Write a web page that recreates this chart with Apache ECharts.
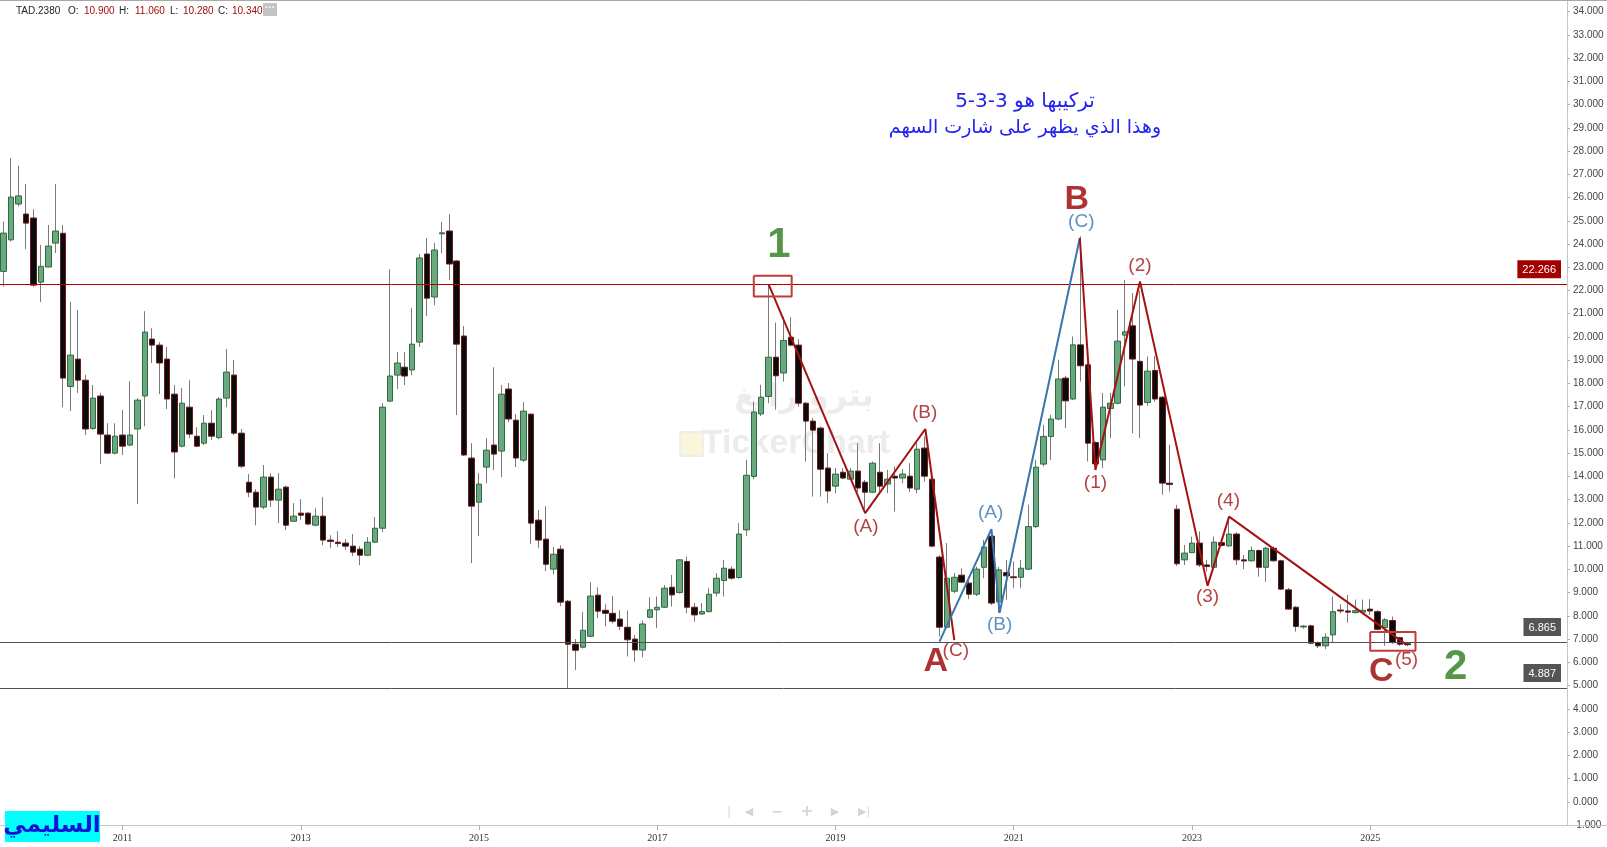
<!DOCTYPE html>
<html><head><meta charset="utf-8">
<script src="https://cdn.jsdelivr.net/npm/echarts@6/dist/echarts.min.js"></script>
<style>html,body{margin:0;padding:0;background:#fff;overflow:hidden}#c{width:1607px;height:847px}</style>
</head><body><div id="c"></div>
<script>
// ---- Monthly categories (Sep 2009 onward) ----
const START_YEAR = 2009, START_MONTH = 9, N_CATS = 211;
const categories = [];
for (let k = 0; k < N_CATS; k++) {
  const m = START_MONTH - 1 + k;
  const y = START_YEAR + Math.floor(m / 12);
  const mm = (m % 12) + 1;
  categories.push(y + '-' + (mm < 10 ? '0' : '') + mm);
}
const yearTickLabels = ['2011','2013','2015','2017','2019','2021','2023','2025'];

// ---- OHLC values (monthly) ----
const OPEN = [
22.82,24.18,25.72,25.29,25.12,22.36,23.01,24.04,24.46,17.87,
19.05,18.14,16.06,17.46,15.78,15.00,15.78,15.35,16.04,17.46,
19.91,19.65,19.05,17.54,15.30,16.98,15.73,15.43,16.29,15.67,
17.37,18.36,15.86,13.75,13.32,12.68,13.97,12.98,13.54,12.07,
12.42,12.42,11.90,12.29,11.26,11.17,11.13,11.00,10.87,10.61,
11.17,11.77,17.24,18.36,18.70,18.58,19.78,23.57,21.72,24.44,
24.56,23.27,20.04,14.79,12.89,14.40,15.35,15.09,17.76,16.42,
14.70,16.68,12.12,11.30,10.01,10.87,8.63,6.78,6.65,7.12,
8.89,8.24,8.11,7.86,7.51,7.00,6.53,7.94,8.26,8.37,
9.23,9.00,10.34,8.37,8.08,8.18,8.98,9.52,10.01,9.65,
11.70,14.00,16.69,17.44,19.13,18.45,19.99,19.65,17.15,16.38,
16.08,14.36,13.58,14.18,13.88,14.23,13.75,13.32,14.18,13.67,
14.01,13.93,14.01,13.45,15.22,13.88,10.53,7.51,9.06,9.75,
9.41,8.93,10.09,11.43,8.60,9.86,9.68,9.66,10.01,11.84,
14.53,15.72,16.47,18.23,17.33,19.66,18.80,15.46,14.71,16.92,
17.15,20.08,20.48,18.95,17.18,18.56,17.41,13.71,12.59,10.41,
10.72,11.13,10.19,10.09,11.15,11.01,11.52,10.41,10.37,10.81,
10.09,10.91,10.37,9.12,8.37,7.52,7.57,6.85,6.71,7.18,
8.25,8.21,8.14,8.16,8.29,8.18,7.50,7.80,7.06,6.80];
const CLOSE = [
24.47,26.02,26.07,24.90,22.23,23.04,23.91,24.56,18.23,19.22,
18.14,16.04,17.37,15.82,15.00,15.73,15.30,15.78,17.28,20.21,
19.65,18.88,17.33,15.05,17.15,15.82,15.30,16.29,15.73,17.33,
18.49,15.86,14.44,13.32,12.68,13.97,12.98,13.45,11.90,12.29,
12.33,11.95,12.29,11.26,11.20,11.11,11.00,10.74,10.61,11.17,
11.77,16.98,18.32,18.88,18.32,19.69,23.40,21.67,23.74,24.48,
23.14,19.69,14.92,12.72,13.67,15.13,14.96,17.54,16.47,14.79,
16.81,11.99,11.26,10.22,10.65,8.59,6.78,6.52,7.38,8.85,
8.20,8.11,7.77,7.55,6.97,6.53,7.65,8.26,8.37,9.19,
8.90,10.41,8.37,8.04,8.18,8.93,9.62,10.05,9.62,11.52,
14.05,16.77,17.41,19.13,18.33,19.85,19.65,17.15,16.38,15.99,
14.31,13.37,14.10,13.93,14.23,13.50,13.32,14.57,13.58,13.88,
13.93,14.10,13.50,15.17,14.01,11.00,7.51,9.62,9.66,9.45,
8.93,10.01,10.96,8.55,9.98,9.72,9.64,10.05,11.84,14.40,
15.72,16.47,18.19,17.25,19.66,18.76,15.43,14.54,16.98,17.15,
19.82,20.22,19.05,17.07,18.53,17.33,13.71,13.65,10.24,10.70,
11.13,10.19,10.12,11.17,11.03,11.52,10.41,10.36,10.81,10.09,
10.91,10.37,9.15,8.29,7.54,7.56,6.82,6.71,7.08,8.18,
8.21,8.16,8.22,8.24,8.21,7.42,7.83,6.85,6.78,6.76];
const LOW = [
22.17,24.11,25.62,23.78,22.17,21.50,23.00,23.61,16.98,16.81,
17.59,15.78,16.00,14.53,14.95,14.95,14.92,15.30,12.81,16.16,
18.88,17.54,16.90,13.91,15.25,15.65,15.26,15.35,15.56,15.60,
16.98,15.78,14.36,13.11,11.90,12.59,12.68,11.99,11.69,12.05,
12.12,11.90,11.86,11.04,10.91,10.96,10.83,10.57,10.18,10.57,
11.13,11.60,17.20,17.76,17.93,18.36,19.57,20.90,21.37,23.61,
22.45,16.64,14.88,10.27,11.43,13.71,14.27,13.97,16.34,14.40,
14.62,11.08,10.91,9.92,9.79,8.42,4.887,5.66,6.60,7.08,
7.90,7.55,7.68,7.38,6.25,6.03,6.22,7.90,7.47,8.33,
8.40,8.96,8.11,7.75,8.04,8.15,8.83,8.83,9.55,9.60,
11.44,13.88,16.60,17.15,16.87,18.08,19.60,17.00,14.64,13.13,
13.13,12.85,13.28,13.88,13.86,13.32,12.60,13.28,13.28,13.28,
12.49,13.71,13.32,13.28,13.78,10.95,7.11,7.47,8.98,9.41,
8.72,8.85,9.62,8.47,8.13,8.69,9.19,9.19,9.97,11.77,
14.43,14.71,16.42,16.08,17.28,18.08,14.64,14.28,14.36,15.65,
17.10,17.87,15.86,15.65,17.04,17.22,13.21,13.35,10.15,10.19,
10.70,10.10,9.90,10.05,10.98,10.98,10.19,10.01,10.33,9.69,
9.47,10.33,9.11,8.25,7.32,7.45,6.78,6.61,6.57,6.85,
8.10,7.71,8.10,8.10,8.04,7.38,6.71,6.80,6.71,6.70];
const HIGH = [
24.97,27.70,27.37,26.58,25.50,23.96,24.82,26.58,24.82,21.50,
21.16,18.37,17.93,17.59,16.29,16.29,16.85,18.10,17.37,21.11,
20.38,19.78,19.57,17.93,17.80,18.14,16.12,16.64,16.85,17.41,
19.48,19.01,16.04,14.10,13.45,14.49,14.14,14.14,13.60,12.85,
13.02,12.46,12.63,13.11,11.47,11.64,11.30,11.52,11.00,11.39,
12.25,17.15,22.92,19.35,19.35,21.24,23.57,24.26,24.04,24.95,
25.29,23.30,20.47,15.43,14.14,15.65,18.70,17.93,18.02,16.68,
17.20,16.70,12.55,12.72,10.96,11.04,8.68,7.00,8.16,9.45,
9.23,8.50,8.85,8.24,8.23,7.18,7.80,8.80,8.83,9.33,
9.76,10.44,10.55,8.55,8.55,9.19,9.84,10.41,10.12,11.99,
14.71,17.22,17.94,22.266,20.62,20.85,20.85,19.91,17.20,16.51,
16.15,15.00,14.36,14.36,14.36,15.43,13.85,14.64,15.43,14.28,
14.43,14.31,14.57,15.43,15.72,13.92,10.61,11.13,9.84,10.05,
9.69,10.12,11.27,11.70,10.10,10.41,10.34,10.41,12.78,14.71,
16.22,16.65,19.02,18.33,20.02,24.33,18.88,15.50,17.59,17.59,
21.17,22.46,21.89,22.00,19.16,19.19,17.45,15.36,12.78,11.05,
11.41,11.63,10.41,11.41,11.30,12.20,11.59,10.62,10.98,10.86,
10.98,10.98,10.41,9.20,8.42,7.60,7.62,6.90,7.25,8.83,
8.50,8.90,8.70,8.70,8.72,8.25,7.90,7.97,7.10,6.85];

// ---- Horizontal price levels ----
const levelResistance = 22.266;
const levelSupportA = 6.865;
const levelSupportB = 4.887;
const lastClose = 6.760;

// ---- Elliott wave paths [month index, price] ----
const waveRed1 = [[103,22.266],[116,12.42],[124.1,16.04],[128,6.96]];
const waveBlue = [[126,6.89],[133,11.73],[134.1,8.13],[144.9,24.26]];
const waveRed2 = [[144.9,24.26],[147,14.28],[153,22.39],[162.1,9.29],[165,12.27],[188.9,6.75]];
const box1 = [101.0,106.1,21.74,22.63];
const box2 = [184.0,190.1,6.50,7.30];

// ---- Wave labels [text, month index, price] ----
const bigGreenLabels = [['1',104.4,23.92],['2',195.5,5.80]];
const bigRedLabels = [['B',144.5,25.90],['A',125.5,6.03],['C',185.5,5.60]];
const redSubLabels = [['(A)',116.1,11.84],['(B)',124.0,16.72],['(C)',128.2,6.50],['(1)',147.0,13.71],['(2)',153.0,23.06],['(3)',162.1,8.80],['(4)',164.9,12.96],['(5)',188.9,6.10]];
const blueSubLabels = [['(C)',145.1,24.97],['(A)',132.9,12.45],['(B)',134.1,7.61]];

const wickData = OPEN.map((o,i)=>[o, CLOSE[i], LOW[i], HIGH[i]]);
const bodyData = OPEN.map((o,i)=>[o, CLOSE[i], Math.min(o,CLOSE[i]), Math.max(o,CLOSE[i])]);

function showYear(idx, val){ return val.slice(5) === '01' && yearTickLabels.indexOf(val.slice(0,4)) >= 0; }
function boxPts(b){ return [[b[0],b[3]],[b[1],b[3]],[b[1],b[2]],[b[0],b[2]],[b[0],b[3]]]; }
function labelSeries(list, color, size, weight){
  return {type:'scatter', xAxisIndex:1, yAxisIndex:0, symbol:'circle', symbolSize:1, silent:true, z:10,
    itemStyle:{color:'rgba(0,0,0,0)'},
    data: list.map(l=>({value:[l[1],l[2]], name:l[0]})),
    label:{show:true, position:'inside', formatter: p=>p.name, color:color, fontSize:size, fontWeight:weight, fontFamily:'Liberation Sans'}};
}
function lineSeries(pts, color){
  return {type:'line', xAxisIndex:1, yAxisIndex:0, data:pts, symbol:'none', silent:true, z:6,
    lineStyle:{color:color, width:2}};
}
const RED = '#a31313', BLUE = '#3a76ae';

const chart = echarts.init(document.getElementById('c'), null, {renderer:'canvas'});
const T = (text,x,y,font,fill,align,extra)=>Object.assign({type:'text', z:100, style:{text:text,x:x,y:y,font:font,fill:fill,textAlign:align||'left',align:align||'left',textVerticalAlign:'middle',verticalAlign:'middle'}}, extra||{});

chart.setOption({
  animation:false,
  textStyle:{fontFamily:'Liberation Sans'},
  grid:{left:0, right:40, top:0, bottom:22, containLabel:false},
  xAxis:[{
    type:'category', data:categories, boundaryGap:true, position:'bottom',
    axisLine:{onZero:false, lineStyle:{color:'#c6c6c6'}},
    axisTick:{show:true, interval:showYear, alignWithLabel:true, length:5, lineStyle:{color:'#b0b0b0'}},
    axisLabel:{interval:showYear, formatter:v=>v.slice(0,4), color:'#333', fontSize:10, fontFamily:'Liberation Sans Narrow', margin:8},
    splitLine:{show:false}
  },{
    type:'value', min:-0.5, max:N_CATS-0.5, show:false, axisLine:{onZero:false}
  }],
  yAxis:{
    type:'value', position:'right', min:-1, max:34.5, interval:1, scale:false,
    axisLine:{show:true, onZero:false, lineStyle:{color:'#c6c6c6'}},
    axisTick:{show:true, length:3, lineStyle:{color:'#b0b0b0'}},
    axisLabel:{formatter:v=>(Math.abs(v-Math.round(v))<1e-9? v.toFixed(3):''), color:'#444', fontSize:10, margin:6, showMaxLabel:false},
    splitLine:{show:false}
  },
  series:[
    {type:'candlestick', name:'wicks', data:wickData, barWidth:1, silent:true, z:2,
     itemStyle:{color:'#7a7a7a', color0:'#7a7a7a', borderColor:'#7a7a7a', borderColor0:'#7a7a7a', borderWidth:1}},
    {type:'candlestick', name:'TAD.2380', data:bodyData, barWidth:6, silent:true, z:3,
     itemStyle:{color:'#6aa880', color0:'#0b0b0b', borderColor:'#2e6a42', borderColor0:'#6a1c1c', borderWidth:1},
     markLine:{symbol:['none','none'], silent:true, animation:false, data:[
       {yAxis:levelResistance, lineStyle:{color:'#b00000', width:1, type:'solid'},
        label:{show:true, position:'insideEndTop', formatter:levelResistance.toFixed(3), color:'#fff', backgroundColor:'#a50000', padding:[4,5,3,5], fontSize:11, distance:6}},
       {yAxis:levelSupportA, lineStyle:{color:'#505050', width:1, type:'solid'},
        label:{show:true, position:'insideEndTop', formatter:levelSupportA.toFixed(3), color:'#fff', backgroundColor:'#555555', padding:[4,5,3,5], fontSize:11, distance:6}},
       {yAxis:levelSupportB, lineStyle:{color:'#505050', width:1, type:'solid'},
        label:{show:true, position:'insideEndTop', formatter:levelSupportB.toFixed(3), color:'#fff', backgroundColor:'#555555', padding:[4,5,3,5], fontSize:11, distance:6}},
       {yAxis:lastClose, lineStyle:{opacity:0},
        label:{show:true, position:'end', formatter:lastClose.toFixed(3), color:'#fff', backgroundColor:'#6aa880', padding:[3,5,2,5], fontSize:11, distance:4}}
     ]}},
    lineSeries(waveRed1, RED),
    lineSeries(waveBlue, BLUE),
    lineSeries(waveRed2, RED),
    lineSeries(boxPts(box1), '#c23b3b'),
    lineSeries(boxPts(box2), '#c23b3b'),
    labelSeries(bigGreenLabels, '#2d7a1c', 42, 'bold'),
    labelSeries(bigRedLabels, '#980000', 34, 'bold'),
    labelSeries(redSubLabels, RED, 19, 'normal'),
    labelSeries(blueSubLabels, BLUE, 19, 'normal')
  ],
  graphic:[
    {type:'line', z:100, shape:{x1:0,y1:0.5,x2:1607,y2:0.5}, style:{stroke:'#a8a8a8', lineWidth:1}},
    {type:'line', z:100, shape:{x1:1567,y1:825.5,x2:1607,y2:825.5}, style:{stroke:'#c6c6c6', lineWidth:1}},
    // watermark
    T('بترو رابغ', 804, 398, 'bold 32px "DejaVu Sans"', '#ececec', 'center', {z:0}),
    {type:'rect', z:0, shape:{x:680,y:432,width:23,height:24}, style:{fill:'#fbf5dc', stroke:'#eeeeee', lineWidth:2}},
    T('TickerChart', 796, 444, 'bold 34px "Liberation Sans"', '#ececec', 'center', {z:0}),
    // legend
    T('TAD.2380', 16, 11, '10px "Liberation Sans"', '#222'),
    T('O:', 68, 11, '10px "Liberation Sans"', '#222'),
    T('10.900', 84, 11, '10px "Liberation Sans"', '#a01010'),
    T('H:', 119, 11, '10px "Liberation Sans"', '#222'),
    T('11.060', 135, 11, '10px "Liberation Sans"', '#a01010'),
    T('L:', 170, 11, '10px "Liberation Sans"', '#222'),
    T('10.280', 183, 11, '10px "Liberation Sans"', '#a01010'),
    T('C:', 218, 11, '10px "Liberation Sans"', '#222'),
    T('10.340', 232, 11, '10px "Liberation Sans"', '#a01010'),
    {type:'rect', z:100, shape:{x:263,y:3,width:14,height:13}, style:{fill:'#c4c4c4'}},
    T('···', 270, 8, 'bold 10px "Liberation Sans"', '#fff', 'center'),
    // Arabic note
    T('تركيبها هو 3-3-5', 1025, 102, '20px "DejaVu Sans"', '#2323f0', 'center'),
    T('وهذا الذي يظهر على شارت السهم', 1025, 128, '19px "DejaVu Sans"', '#2323f0', 'center'),
    // badge
    {type:'rect', z:100, shape:{x:5,y:811,width:95,height:31}, style:{fill:'#00ffff'}},
    T('السليمي', 52, 826, 'bold 23px "DejaVu Sans"', '#1414d8', 'center'),
    // navigation icons
    T('|', 729, 812, '12px "Liberation Sans"', '#d4d4d4', 'center'),
    T('◀', 749, 812, '11px "DejaVu Sans"', '#d4d4d4', 'center'),
    T('−', 777, 812, 'bold 14px "DejaVu Sans"', '#d4d4d4', 'center'),
    T('+', 807, 812, 'bold 15px "DejaVu Sans"', '#d4d4d4', 'center'),
    T('▶', 835, 812, '11px "DejaVu Sans"', '#d4d4d4', 'center'),
    T('▶|', 864, 812, '11px "DejaVu Sans"', '#d4d4d4', 'center')
  ]
});
</script></body></html>
